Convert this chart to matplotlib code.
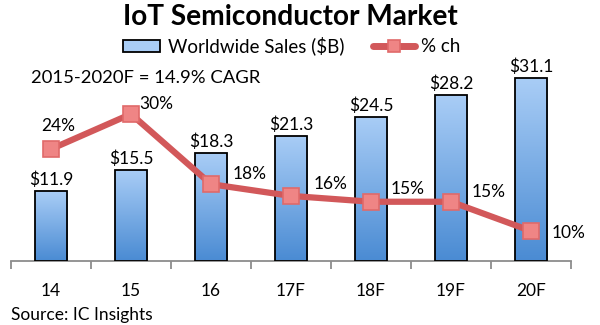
import matplotlib
matplotlib.use("Agg")
import matplotlib.pyplot as plt
import numpy as np
from matplotlib.patches import Rectangle
from matplotlib.lines import Line2D
from matplotlib.colors import LinearSegmentedColormap

plt.rcParams['font.family'] = ['Lato', 'DejaVu Sans']

categories = ["14", "15", "16", "17F", "18F", "19F", "20F"]
sales = [11.9, 15.5, 18.3, 21.3, 24.5, 28.2, 31.1]
sales_labels = ["$11.9", "$15.5", "$18.3", "$21.3", "$24.5", "$28.2", "$31.1"]
pct_change = [24, 30, 18, 16, 15, 15, 10]
pct_labels = ["24%", "30%", "18%", "16%", "15%", "15%", "10%"]

# label offsets in pixels (dx, dy, ha)
pct_offsets = [(7, 23, 'center'), (8, 10, 'left'), (22, 10, 'left'), (23, 12, 'left'),
               (20, 13, 'left'), (21, 10, 'left'), (21, -2, 'left')]

W, H = 600, 325
fig = plt.figure(figsize=(6, 3.25), dpi=100)
ax = fig.add_axes([11/W, 64/H, 560/W, 221/H])
x = np.arange(len(categories))
bw = 0.41

bar_edge = 'black'
line_col = '#d2585a'
mk_face = '#ef8585'
mk_edge = '#e06a6a'

cmap = LinearSegmentedColormap.from_list("g", ["#4a8bd3", "#a9cdf6"])
bars = ax.bar(x, sales, width=bw, color='none', edgecolor=bar_edge, linewidth=1.3, zorder=3)
grad = np.linspace(0, 1, 256).reshape(-1, 1)
for b in bars:
    x0, y0 = b.get_x(), b.get_y()
    w, h = b.get_width(), b.get_height()
    im = ax.imshow(grad, extent=[x0, x0 + w, y0, y0 + h], origin='lower',
                   aspect='auto', cmap=cmap, zorder=2)
    im.set_clip_path(b)

for xi, v, lab in zip(x, sales, sales_labels):
    ax.annotate(lab, (xi, v), xytext=(0, 3), textcoords='offset pixels',
                ha='center', va='bottom', fontsize=12.5, color='black', zorder=5)

ax.set_xlim(-0.5, len(categories) - 0.5)
ax.set_ylim(0, 37.6)
ax.set_yticks([])
for s in ['top', 'left', 'right']:
    ax.spines[s].set_visible(False)
ax.spines['bottom'].set_color('#8c8c8c')
ax.spines['bottom'].set_linewidth(1.3)
ax.set_xticks(x)
ax.set_xticklabels(categories, fontsize=12.5)
ax.tick_params(axis='x', which='major', length=0, pad=16)
ax.set_xticks(np.arange(-0.5, len(categories), 1), minor=True)
ax.tick_params(axis='x', which='minor', length=6, width=1.3, color='#8c8c8c')

ax2 = ax.twinx()
ax2.set_ylim(4.87, 42.65)
ax2.set_yticks([])
for s in ['top', 'left', 'right', 'bottom']:
    ax2.spines[s].set_visible(False)
ax2.plot(x, pct_change, color=line_col, linewidth=4.5, marker='s', markersize=11,
         markerfacecolor=mk_face, markeredgecolor=mk_edge, markeredgewidth=1.2,
         solid_joinstyle='round', zorder=4)
for xi, v, lab, (dx, dy, ha) in zip(x, pct_change, pct_labels, pct_offsets):
    ax2.annotate(lab, (xi, v), xytext=(dx, dy), textcoords='offset pixels',
                 ha=ha, va='center', fontsize=12.5, color='black')

fig.text(290/W, 1 - 17/H, "IoT Semiconductor Market", ha='center', va='center',
         fontsize=20.2, fontweight='bold')
fig.text(31/W, 1 - 78/H, "2015-2020F = 14.9% CAGR", ha='left', va='center', fontsize=13.3)
fig.text(11/W, 1 - 315/H, "Source: IC Insights", ha='left', va='center', fontsize=12.5)

# legend drawn in figure pixel coordinates
ly = 46
fig.patches.append(Rectangle((123/W, 1 - 52/H), 37/W, 12/H, transform=fig.transFigure,
                             facecolor='#a9cdf6', edgecolor='black', linewidth=1.3))
fig.text(168/W, 1 - ly/H, "Worldwide Sales ($B)", ha='left', va='center', fontsize=13.5)
fig.lines.append(Line2D([373/W, 415/W], [1 - ly/H, 1 - ly/H], transform=fig.transFigure,
                        color=line_col, linewidth=5, solid_capstyle='round'))
fig.lines.append(Line2D([394/W], [1 - ly/H], transform=fig.transFigure, marker='s',
                        markersize=9, markerfacecolor=mk_face, markeredgecolor=mk_edge,
                        markeredgewidth=1.2, linestyle='none'))
fig.text(421/W, 1 - ly/H, "% ch", ha='left', va='center', fontsize=13.5)

fig.savefig("out.png", dpi=100)
